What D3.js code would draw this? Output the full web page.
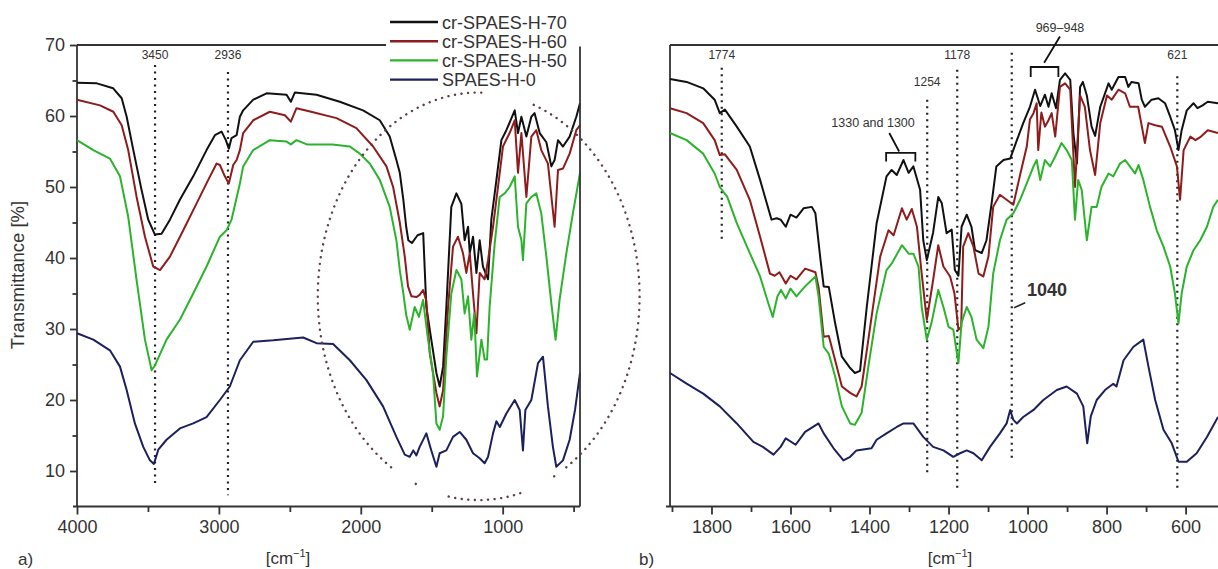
<!DOCTYPE html>
<html>
<head>
<meta charset="utf-8">
<script src="https://cdn.jsdelivr.net/npm/d3@7"></script>
<style>
  body { margin: 0; background: #fff; }
  text { font-family: "Liberation Sans", Arial, sans-serif; fill: #333; }
</style>
</head>
<body>
<div id="chart"></div>
<script>
// 1. data ///////////////////////////////////////////////
const seriesNames = ["cr-SPAES-H-70", "cr-SPAES-H-60", "cr-SPAES-H-50", "SPAES-H-0"]
const seriesColors = ["#111111", "#8e1c1c", "#2cb32c", "#1c205c"]

// panel a) full range, [wavenumber, transmittance]
const wideH70 = [[4000,64.7],[3860,64.6],[3745,63.9],[3685,62.5],[3650,59.9],[3603,55.2],[3545,49.6],[3498,45.4],[3451,43.3],[3404,43.4],[3345,45.4],[3275,48.2],[3181,51.5],[3087,55.2],[3028,57.3],[2981,57.8],[2951,56.6],[2930,55.4],[2911,56.9],[2875,57.3],[2852,59.9],[2829,60.8],[2758,62.3],[2664,63.2],[2523,63.0],[2493,62.0],[2465,63.3],[2312,63.0],[2148,62.0],[1984,60.8],[1866,59.4],[1796,57.1],[1749,53.8],[1725,52.0],[1700,48.2],[1680,44.4],[1665,42.5],[1640,42.1],[1600,43.2],[1560,43.5],[1538,33.1],[1503,28.5],[1467,23.8],[1444,21.9],[1420,24.7],[1397,33.1],[1362,47.2],[1326,49.1],[1291,47.6],[1268,42.5],[1244,44.4],[1232,40.7],[1209,43.0],[1185,37.9],[1162,42.5],[1139,38.8],[1103,37.0],[1080,45.4],[1044,51.0],[1009,56.6],[974,58.0],[915,60.8],[892,57.6],[868,59.9],[833,57.1],[798,59.9],[775,60.4],[739,57.6],[692,56.3],[657,52.9],[634,53.8],[610,56.6],[575,55.7],[528,57.1],[481,59.9],[455,61.8]]
const wideH60 = [[4000,62.3],[3838,61.5],[3744,60.6],[3685,58.7],[3639,55.2],[3580,48.6],[3521,43.0],[3463,38.8],[3415,38.3],[3345,40.2],[3251,43.9],[3157,47.7],[3075,51.0],[3016,53.3],[2993,53.1],[2958,51.5],[2930,50.5],[2899,53.1],[2875,53.8],[2852,55.2],[2829,57.6],[2758,59.4],[2641,60.6],[2535,60.1],[2493,59.2],[2453,61.1],[2350,60.6],[2171,59.7],[2031,58.3],[1913,55.7],[1819,52.9],[1772,50.0],[1725,45.0],[1690,40.2],[1667,36.0],[1643,34.6],[1608,34.5],[1585,34.8],[1561,35.5],[1538,34.0],[1514,26.6],[1467,21.0],[1444,19.1],[1420,21.4],[1385,33.1],[1350,41.6],[1315,43.0],[1280,40.7],[1256,37.9],[1232,40.7],[1209,35.0],[1185,29.4],[1162,37.9],[1127,37.0],[1103,39.7],[1068,44.4],[1033,50.0],[998,55.7],[951,57.6],[915,59.4],[892,52.0],[868,57.6],[833,48.6],[798,57.1],[763,58.0],[728,55.2],[681,53.3],[634,44.4],[610,52.4],[575,52.6],[528,54.7],[481,58.0],[455,58.7]]
const wideH50 = [[4000,56.6],[3885,55.2],[3768,54.0],[3697,51.5],[3639,45.8],[3580,36.9],[3521,28.5],[3474,24.2],[3450,24.9],[3369,28.5],[3275,31.3],[3181,35.0],[3087,38.8],[2993,43.0],[2946,43.9],[2911,45.4],[2852,50.5],[2829,52.9],[2758,55.2],[2641,56.6],[2523,56.4],[2493,56.0],[2453,56.6],[2380,56.0],[2200,56.0],[2077,55.7],[2007,54.7],[1937,53.3],[1866,51.0],[1796,47.2],[1749,42.5],[1725,38.3],[1700,35.0],[1680,32.0],[1655,29.9],[1620,33.1],[1590,31.7],[1561,34.1],[1526,28.5],[1491,23.8],[1467,16.7],[1444,15.8],[1420,17.7],[1397,26.1],[1362,35.0],[1326,38.3],[1291,37.0],[1268,32.2],[1244,34.6],[1221,28.5],[1200,32.2],[1181,23.3],[1150,28.5],[1127,25.7],[1110,25.7],[1092,33.1],[1056,42.1],[1021,48.6],[986,49.1],[951,50.0],[915,51.5],[892,44.4],[868,42.5],[857,39.7],[833,47.7],[798,48.6],[763,49.1],[728,46.3],[692,40.2],[657,33.6],[627,28.5],[599,34.1],[551,40.7],[505,46.3],[455,52.0]]
const wideH0 = [[4000,29.4],[3885,28.5],[3768,27.0],[3697,24.7],[3650,21.4],[3592,16.7],[3533,13.4],[3486,11.5],[3458,11.0],[3427,13.0],[3369,14.4],[3275,16.0],[3181,16.7],[3087,17.6],[2993,20.0],[2923,21.9],[2852,25.6],[2758,28.2],[2617,28.4],[2406,28.8],[2312,28.0],[2195,27.9],[2077,25.6],[1960,22.8],[1843,19.1],[1749,14.8],[1690,12.3],[1655,12.0],[1630,12.9],[1608,12.2],[1585,13.4],[1538,15.3],[1503,12.9],[1467,10.6],[1444,12.5],[1397,12.9],[1350,14.8],[1303,15.5],[1256,14.4],[1209,12.5],[1162,11.8],[1127,11.1],[1103,12.0],[1068,15.3],[1044,17.0],[1020,16.2],[974,18.1],[915,20.0],[880,18.6],[857,12.9],[840,18.6],[798,20.0],[751,25.2],[716,26.1],[681,19.1],[646,13.4],[622,10.6],[575,11.5],[528,14.4],[490,18.6],[455,23.8]]

// panel b) fingerprint region
const narrowH70 = [[1905,65.2],[1863,64.8],[1821,63.9],[1792,62.3],[1779,60.4],[1766,60.9],[1736,58.5],[1703,55.7],[1677,51.0],[1648,45.4],[1635,45.6],[1625,45.4],[1612,44.4],[1600,46.1],[1585,45.7],[1567,47.0],[1546,47.2],[1537,46.3],[1524,39.7],[1516,36.0],[1503,35.9],[1487,30.8],[1470,26.1],[1449,24.5],[1437,23.8],[1424,24.1],[1407,33.1],[1382,44.9],[1357,51.5],[1344,52.4],[1331,51.7],[1314,53.8],[1301,52.0],[1289,52.9],[1272,49.6],[1264,42.5],[1255,39.7],[1239,43.6],[1226,48.6],[1217,47.7],[1205,43.5],[1192,44.0],[1184,38.3],[1175,37.5],[1167,44.4],[1154,46.1],[1142,44.4],[1133,41.1],[1116,40.7],[1104,42.5],[1091,47.7],[1079,52.9],[1061,53.8],[1044,54.0],[1027,56.6],[1011,59.0],[994,61.3],[981,63.7],[968,61.4],[956,63.0],[947,61.3],[939,63.2],[928,61.1],[918,65.1],[905,66.0],[892,65.1],[884,57.6],[875,53.3],[867,64.1],[860,64.8],[850,62.9],[838,58.5],[829,57.2],[816,61.3],[795,64.6],[787,63.7],[770,65.5],[753,65.5],[745,64.1],[737,64.8],[719,64.6],[711,62.3],[703,61.3],[686,62.3],[669,62.5],[652,61.8],[639,59.9],[627,58.0],[618,55.2],[610,58.0],[597,60.8],[580,61.8],[570,61.1],[557,61.5],[544,62.0],[518,61.8]]
const narrowH60 = [[1905,61.1],[1863,60.4],[1821,59.0],[1792,56.6],[1779,54.5],[1766,54.6],[1736,52.4],[1703,48.2],[1677,43.0],[1652,37.8],[1640,37.5],[1628,38.0],[1612,36.4],[1600,37.5],[1585,37.0],[1563,38.5],[1537,38.0],[1529,35.9],[1516,28.9],[1503,29.0],[1487,25.6],[1470,21.9],[1449,21.0],[1433,20.5],[1420,21.9],[1403,28.5],[1373,40.2],[1352,43.9],[1339,43.2],[1318,47.0],[1306,45.4],[1293,46.9],[1280,44.4],[1268,37.8],[1255,31.3],[1239,36.9],[1226,41.8],[1213,38.8],[1196,37.4],[1185,35.0],[1175,29.9],[1168,30.3],[1163,41.6],[1150,43.5],[1137,41.6],[1124,37.8],[1112,37.4],[1099,40.2],[1087,47.2],[1070,48.9],[1053,48.2],[1036,47.5],[1019,51.7],[1002,55.7],[994,59.5],[985,60.4],[977,61.8],[973,55.2],[965,60.5],[956,58.5],[947,59.4],[939,60.4],[930,57.1],[918,64.1],[905,64.6],[892,63.7],[880,50.0],[867,62.9],[855,61.3],[842,55.2],[829,51.7],[816,59.0],[799,62.9],[787,62.3],[770,63.7],[753,63.2],[741,61.3],[720,61.3],[703,56.2],[694,59.0],[677,58.7],[660,58.5],[639,55.7],[622,52.9],[614,48.2],[605,55.2],[588,57.1],[575,56.6],[561,57.1],[544,58.0],[518,57.6]]
const narrowH50 = [[1905,57.6],[1863,56.6],[1821,54.7],[1792,51.9],[1779,50.0],[1760,48.6],[1736,44.9],[1703,40.7],[1677,37.4],[1656,33.6],[1645,31.7],[1633,34.6],[1624,35.5],[1612,34.3],[1600,35.7],[1585,34.6],[1563,36.0],[1537,37.4],[1529,34.6],[1516,27.5],[1503,26.5],[1487,23.3],[1470,19.1],[1449,16.7],[1437,16.5],[1420,18.2],[1403,24.7],[1382,32.2],[1357,38.3],[1344,39.2],[1318,41.8],[1301,40.6],[1289,40.6],[1276,38.8],[1268,33.1],[1255,28.5],[1243,30.9],[1226,35.5],[1213,33.1],[1200,30.3],[1188,29.9],[1175,25.2],[1167,30.9],[1154,33.1],[1142,31.7],[1129,28.5],[1112,27.3],[1099,30.3],[1087,37.8],[1070,42.5],[1053,45.4],[1036,46.3],[1019,48.2],[1002,50.5],[985,52.9],[977,53.8],[968,51.0],[956,53.8],[943,52.9],[930,54.3],[914,56.2],[901,55.2],[888,53.8],[880,45.4],[872,51.0],[863,49.6],[850,42.5],[838,47.2],[825,47.2],[813,50.0],[795,51.9],[783,51.5],[766,53.3],[753,53.8],[741,52.9],[728,51.9],[719,53.1],[707,51.0],[690,47.2],[673,43.9],[656,41.6],[639,38.8],[627,35.0],[618,30.8],[610,35.0],[597,38.8],[580,41.1],[563,42.5],[546,44.4],[530,47.2],[518,48.2]]
const narrowH0 = [[1905,23.8],[1863,22.3],[1821,20.9],[1779,19.1],[1736,16.7],[1694,14.1],[1670,13.4],[1643,12.3],[1625,13.4],[1612,14.6],[1587,13.7],[1563,15.5],[1529,16.7],[1516,15.3],[1491,13.2],[1466,11.5],[1449,12.0],[1433,12.9],[1395,13.2],[1382,14.4],[1357,15.3],[1331,16.2],[1314,16.7],[1289,16.7],[1264,14.8],[1239,13.4],[1213,12.9],[1188,12.0],[1171,12.5],[1154,12.9],[1137,12.5],[1116,11.5],[1095,13.4],[1070,15.3],[1053,16.7],[1044,18.6],[1036,17.2],[1027,16.7],[1011,17.6],[985,18.6],[960,20.0],[926,21.4],[901,21.9],[875,20.9],[859,19.1],[849,13.9],[840,17.7],[825,20.0],[804,21.4],[783,22.3],[775,21.9],[757,25.6],[732,27.5],[707,28.5],[694,24.7],[677,20.0],[656,15.8],[635,13.9],[618,11.3],[597,11.3],[572,12.5],[546,14.8],[518,17.6]]

// ticks
const yTicks = [10, 20, 30, 40, 50, 60, 70]
const yMinorTicks = [15, 25, 35, 45, 55, 65]
const wideTicks = [4000, 3000, 2000, 1000]
const wideMinorTicks = [3500, 2500, 1500, 500]
const narrowTicks = [1800, 1600, 1400, 1200, 1000, 800, 600]
const narrowMinorTicks = [1900, 1700, 1500, 1300, 1100, 900, 700]

// band markers: [wavenumber, top, bottom, label, labelLevel]
const wideMarks = [[3450, 67.2, 8.0, "3450", 68.6], [2936, 66.2, 6.6, "2936", 68.6]]
const narrowMarks = [[1774, 66.8, 42.3, "1774", 68.6], [1254, 62.3, 9.4, "1254", 64.8],
  [1178, 66.5, 7.6, "1178", 68.6], [1040, 68.9, 11.8, "", 0], [621, 65.6, 7.6, "621", 68.6]]

// brackets: [from, to, level, drop, label, labelX, labelLevel, leaderStart, leaderEnd]
const brackets = [
  [1358, 1284, 54.8, 1.2, "1330 and 1300", 1391, 59.0, [1350, 57.6], [1325, 55.0]],
  [992, 922, 66.9, 1.4, "969\u2013948", 918, 72.4, [918, 71.2], [958, 67.5]]
]

// circled region in panel a): centre [wavenumber, %], radii, visible arcs (deg)
const circleCentre = [1169, 34.6]
const circleRadii = [1134, 28.7]
const circleArcs = [[-70, 57], [62, 64], [75, 103], [113, 115], [123, 272]]

// 2. dimensions ///////////////////////////////////////
const dimensions = {
  width: 1218,
  height: 569,
  top: 45,
  bottom: 506.5,
  wide: { left: 77, right: 580 },
  narrow: { left: 670, right: 1218 },
}

// 3. canvas
const wrapper = d3.select("#chart")
  .append("svg")
    .attr("width", dimensions.width)
    .attr("height", dimensions.height)

// 4. scales
const yScale = d3.scaleLinear()
  .domain([5, 70])
  .range([dimensions.bottom, dimensions.top])

const xWide = d3.scaleLinear()
  .domain([4000, 455])
  .range([dimensions.wide.left, dimensions.wide.right])

const xNarrow = d3.scaleLinear()
  .domain([1905, 518])
  .range([dimensions.narrow.left, dimensions.narrow.right])

const frameColor = "#333"
const fmt = d3.format("d")

function styleAxis(a) {
  a.select(".domain").remove()
  a.selectAll("line").attr("stroke", frameColor).attr("stroke-width", 1.8)
  a.selectAll("text").attr("font-size", 18).attr("fill", "#333")
    .style("font-family", '"Liberation Sans", Arial, sans-serif')
}

function drawPanel(xScale, spectra, ticks, minorTicks, marks, showY) {
  const g = wrapper.append("g")
  const [x0, x1] = xScale.range()

  // frame
  g.append("line").attr("x1", x0).attr("x2", x1).attr("y1", dimensions.top).attr("y2", dimensions.top)
    .attr("stroke", frameColor).attr("stroke-width", 1.8)

  // x axis
  const xAxis = g.append("g")
    .attr("transform", `translate(0, ${dimensions.bottom})`)
    .call(d3.axisBottom(xScale).tickValues(ticks).tickSize(8).tickPadding(6).tickFormat(fmt).tickSizeOuter(0))
  const xMinor = g.append("g")
    .attr("transform", `translate(0, ${dimensions.bottom})`)
    .call(d3.axisBottom(xScale).tickValues(minorTicks).tickSize(5.5).tickFormat("").tickSizeOuter(0))
  styleAxis(xAxis)
  styleAxis(xMinor)
  g.append("line").attr("x1", x0 - 4).attr("x2", x1).attr("y1", dimensions.bottom).attr("y2", dimensions.bottom)
    .attr("stroke", frameColor).attr("stroke-width", 1.8)
  g.append("line").attr("x1", x0).attr("x2", x0).attr("y1", dimensions.top).attr("y2", dimensions.bottom)
    .attr("stroke", frameColor).attr("stroke-width", 1.8)

  if (showY) {
    const yAxis = g.append("g")
      .attr("transform", `translate(${x0}, 0)`)
      .call(d3.axisLeft(yScale).tickValues(yTicks).tickSize(7).tickPadding(5).tickSizeOuter(0))
    const yMinor = g.append("g")
      .attr("transform", `translate(${x0}, 0)`)
      .call(d3.axisLeft(yScale).tickValues(yMinorTicks).tickSize(4.5).tickFormat("").tickSizeOuter(0))
    styleAxis(yAxis)
    styleAxis(yMinor)
  }

  // dotted band markers
  g.selectAll("line.mark")
    .data(marks)
    .enter()
    .append("line")
      .attr("class", "mark")
      .attr("x1", d => xScale(d[0]))
      .attr("x2", d => xScale(d[0]))
      .attr("y1", d => yScale(d[1]))
      .attr("y2", d => yScale(d[2]))
      .attr("stroke", "#222")
      .attr("stroke-width", 2.2)
      .attr("stroke-dasharray", "2 4.5")

  g.selectAll("text.mark")
    .data(marks.filter(d => d[3] !== ""))
    .enter()
    .append("text")
      .attr("class", "mark")
      .attr("x", d => xScale(d[0]))
      .attr("y", d => yScale(d[4]) + 4)
      .attr("text-anchor", "middle")
      .attr("font-size", 12)
      .attr("fill", "#444")
      .text(d => d[3])

  // spectra
  const line = d3.line()
    .x(d => xScale(d[0]))
    .y(d => yScale(d[1]))

  g.selectAll("path.spectrum")
    .data(spectra)
    .enter()
    .append("path")
      .attr("class", "spectrum")
      .attr("d", d => line(d))
      .attr("fill", "none")
      .attr("stroke", (d, i) => seriesColors[i])
      .attr("stroke-width", 2)
      .attr("stroke-linejoin", "round")

  return g
}

// 5. draw data
const panelA = drawPanel(xWide, [wideH70, wideH60, wideH50, wideH0], wideTicks, wideMinorTicks, wideMarks, true)
const panelB = drawPanel(xNarrow, [narrowH70, narrowH60, narrowH50, narrowH0], narrowTicks, narrowMinorTicks, narrowMarks, false)

// right border of panel a)
panelA.append("line")
  .attr("x1", dimensions.wide.right).attr("x2", dimensions.wide.right)
  .attr("y1", dimensions.top).attr("y2", dimensions.bottom)
  .attr("stroke", frameColor).attr("stroke-width", 1.8)

// dotted circle around the fingerprint region
const circlePath = arc => d3.range(arc[0], arc[1] + 0.5, 1).map(a => {
  const r = a * Math.PI / 180
  return [
    xWide(circleCentre[0]) + (xWide(0) - xWide(circleRadii[0])) * Math.cos(r),
    yScale(circleCentre[1]) + (yScale(0) - yScale(circleRadii[1])) * Math.sin(r)
  ]
})
wrapper.selectAll("path.circle")
  .data(circleArcs)
  .enter()
  .append("path")
    .attr("class", "circle")
    .attr("d", d => d3.line()(circlePath(d)))
    .attr("fill", "none")
    .attr("stroke", "#5e4040")
    .attr("stroke-width", 2.4)
    .attr("stroke-linecap", "round")
    .attr("stroke-dasharray", "0.1 6.5")

// brackets in panel b)
brackets.forEach(b => {
  const [from, to, level, drop, label, lx, ly, ls, le] = b
  const path = d3.path()
  path.moveTo(xNarrow(from), yScale(level - drop))
  path.lineTo(xNarrow(from), yScale(level))
  path.lineTo(xNarrow(to), yScale(level))
  path.lineTo(xNarrow(to), yScale(level - drop))
  path.moveTo(xNarrow(ls[0]), yScale(ls[1]))
  path.lineTo(xNarrow(le[0]), yScale(le[1]))
  panelB.append("path")
    .attr("d", path.toString())
    .attr("fill", "none")
    .attr("stroke", "#111")
    .attr("stroke-width", 1.8)
  panelB.append("text")
    .attr("x", xNarrow(lx))
    .attr("y", yScale(ly) + 4)
    .attr("text-anchor", "middle")
    .attr("font-size", 12.5)
    .attr("fill", "#444")
    .text(label)
})

// 1040 callout
panelB.append("line")
  .attr("x1", xNarrow(1034)).attr("y1", yScale(33.0))
  .attr("x2", xNarrow(1006)).attr("y2", yScale(33.7))
  .attr("stroke", "#222").attr("stroke-width", 1.5)
panelB.append("text")
  .attr("x", xNarrow(951))
  .attr("y", yScale(35.5) + 6)
  .attr("text-anchor", "middle")
  .attr("font-size", 18)
  .attr("font-weight", "bold")
  .attr("fill", "#333")
  .text("1040")

// 6. peripherals
// legend
const legend = wrapper.append("g")
legend.append("rect")
  .attr("x", 386).attr("y", 0).attr("width", 200).attr("height", 46.5)
  .attr("fill", "#fff")
const legendRow = legend.selectAll("g")
  .data(seriesNames)
  .enter()
  .append("g")
    .attr("transform", (d, i) => `translate(390, ${22 + i * 19.2})`)
legendRow.append("line")
  .attr("x1", 0).attr("x2", 48)
  .attr("stroke", (d, i) => seriesColors[i])
  .attr("stroke-width", 2.4)
legendRow.append("text")
  .attr("x", 52)
  .attr("y", 6.5)
  .attr("font-size", 18)
  .attr("fill", "#222")
  .text(d => d)

// axis titles
wrapper.append("text")
  .attr("transform", `translate(24, 275) rotate(-90)`)
  .attr("text-anchor", "middle")
  .attr("font-size", 18.5)
  .text("Transmittance [%]")

const unitLabel = (x) => {
  const t = wrapper.append("text")
    .attr("x", x)
    .attr("y", 564)
    .attr("text-anchor", "middle")
    .attr("font-size", 17)
  t.append("tspan").text("[cm")
  t.append("tspan").attr("font-size", 11).attr("dy", -7).text("\u22121")
  t.append("tspan").attr("dy", 7).text("]")
}
unitLabel(288)
unitLabel(950)

wrapper.append("text").attr("x", 18).attr("y", 565).attr("font-size", 17).text("a)")
wrapper.append("text").attr("x", 639).attr("y", 565).attr("font-size", 17).text("b)")
</script>
</body>
</html>
